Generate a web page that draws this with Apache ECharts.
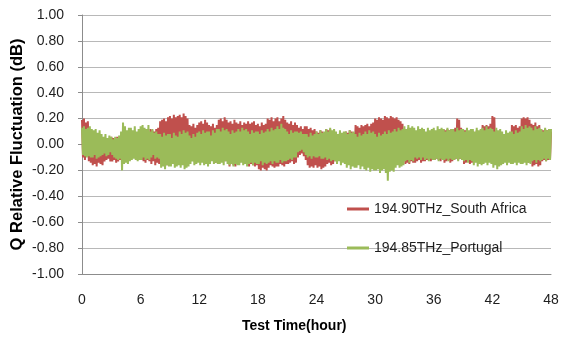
<!DOCTYPE html>
<html>
<head>
<meta charset="utf-8">
<script src="https://cdn.jsdelivr.net/npm/echarts@6/dist/echarts.min.js"></script>
<style>
  html, body { margin: 0; padding: 0; background: #fff; }
  #main { width: 565px; height: 338px; }
</style>
</head>
<body>
<div id="main"></div>
<script>
// sample spacing on the time axis (hours)
var step = 0.1;
var xTicks = [0, 6, 12, 18, 24, 30, 36, 42, 48];
var yTicks = [-1, -0.8, -0.6, -0.4, -0.2, 0, 0.2, 0.4, 0.6, 0.8, 1];
var seriesNames = ['194.90THz_South Africa', '194.85THz_Portugal'];

// 194.90THz_South Africa, one value every 0.1 h (one row = one hour)
var southAfrica = [
  0.19, -0.10, 0.20, -0.12, 0.17, -0.08, 0.18, -0.13, 0.12, -0.14,
  0.08, -0.16, 0.06, -0.15, 0.07, -0.17, 0.05, -0.14, 0.06, -0.15,
  0.04, -0.16, 0.05, -0.13, 0.03, -0.12, 0.05, -0.11, 0.04, -0.13,
  0.06, -0.13, 0.05, -0.12, 0.04, -0.14, 0.06, -0.13, 0.05, -0.12,
  0.05, -0.10, 0.03, -0.09, 0.06, -0.11, 0.04, -0.10, 0.05, -0.09,
  0.07, -0.08, 0.08, -0.10, 0.06, -0.07, 0.08, -0.09, 0.07, -0.08,
  0.10, -0.12, 0.09, -0.13, 0.08, -0.14, 0.10, -0.12, 0.09, -0.13,
  0.12, -0.15, 0.11, -0.13, 0.10, -0.16, 0.12, -0.14, 0.13, -0.15,
  0.18, -0.14, 0.19, -0.15, 0.20, -0.13, 0.18, -0.16, 0.21, -0.14,
  0.22, -0.13, 0.20, -0.14, 0.23, -0.12, 0.21, -0.15, 0.22, -0.13,
  0.23, -0.15, 0.21, -0.14, 0.24, -0.13, 0.22, -0.15, 0.20, -0.14,
  0.15, -0.12, 0.14, -0.11, 0.16, -0.13, 0.13, -0.12, 0.15, -0.11,
  0.17, -0.12, 0.18, -0.11, 0.16, -0.10, 0.19, -0.12, 0.17, -0.13,
  0.15, -0.14, 0.14, -0.12, 0.16, -0.13, 0.13, -0.14, 0.15, -0.12,
  0.19, -0.13, 0.20, -0.12, 0.18, -0.11, 0.21, -0.13, 0.19, -0.12,
  0.17, -0.17, 0.18, -0.15, 0.16, -0.16, 0.19, -0.17, 0.17, -0.15,
  0.16, -0.14, 0.18, -0.13, 0.15, -0.12, 0.17, -0.14, 0.16, -0.13,
  0.18, -0.17, 0.16, -0.15, 0.17, -0.16, 0.18, -0.17, 0.15, -0.16,
  0.16, -0.19, 0.14, -0.20, 0.17, -0.18, 0.15, -0.19, 0.16, -0.20,
  0.20, -0.18, 0.19, -0.16, 0.21, -0.17, 0.18, -0.18, 0.20, -0.17,
  0.21, -0.17, 0.18, -0.15, 0.20, -0.16, 0.22, -0.17, 0.19, -0.15,
  0.17, -0.15, 0.16, -0.14, 0.18, -0.13, 0.15, -0.15, 0.17, -0.14,
  0.15, -0.10, 0.13, -0.08, 0.14, -0.07, 0.12, -0.09, 0.14, -0.12,
  0.14, -0.16, 0.12, -0.18, 0.13, -0.17, 0.11, -0.18, 0.12, -0.16,
  0.10, -0.18, 0.09, -0.17, 0.11, -0.19, 0.10, -0.18, 0.09, -0.17,
  0.12, -0.15, 0.11, -0.14, 0.12, -0.16, 0.10, -0.15, 0.11, -0.13,
  0.08, -0.12, 0.07, -0.11, 0.09, -0.13, 0.08, -0.12, 0.07, -0.11,
  0.10, -0.14, 0.09, -0.13, 0.11, -0.12, 0.10, -0.14, 0.09, -0.13,
  0.15, -0.13, 0.14, -0.12, 0.13, -0.13, 0.15, -0.11, 0.14, -0.12,
  0.15, -0.12, 0.16, -0.11, 0.14, -0.10, 0.16, -0.12, 0.17, -0.11,
  0.20, -0.10, 0.19, -0.09, 0.21, -0.11, 0.20, -0.10, 0.19, -0.09,
  0.22, -0.10, 0.21, -0.09, 0.20, -0.11, 0.22, -0.10, 0.21, -0.09,
  0.20, -0.10, 0.21, -0.08, 0.19, -0.09, 0.18, -0.10, 0.16, -0.12,
  0.12, -0.15, 0.11, -0.14, 0.13, -0.15, 0.12, -0.13, 0.11, -0.14,
  0.10, -0.14, 0.09, -0.13, 0.08, -0.12, 0.10, -0.14, 0.09, -0.13,
  0.08, -0.13, 0.07, -0.12, 0.08, -0.11, 0.07, -0.13, 0.08, -0.12,
  0.10, -0.12, 0.09, -0.11, 0.10, -0.12, 0.09, -0.13, 0.10, -0.11,
  0.12, -0.14, 0.11, -0.13, 0.12, -0.12, 0.11, -0.14, 0.12, -0.13,
  0.12, -0.12, 0.13, -0.11, 0.20, -0.12, 0.19, -0.11, 0.13, -0.12,
  0.12, -0.15, 0.11, -0.14, 0.12, -0.13, 0.10, -0.15, 0.11, -0.14,
  0.10, -0.13, 0.09, -0.12, 0.11, -0.13, 0.10, -0.12, 0.09, -0.13,
  0.15, -0.12, 0.14, -0.11, 0.15, -0.12, 0.14, -0.11, 0.16, -0.12,
  0.22, -0.12, 0.21, -0.11, 0.10, -0.12, 0.09, -0.11, 0.10, -0.12,
  0.08, -0.13, 0.07, -0.12, 0.08, -0.11, 0.07, -0.13, 0.08, -0.12,
  0.15, -0.10, 0.14, -0.09, 0.15, -0.11, 0.13, -0.10, 0.14, -0.12,
  0.20, -0.14, 0.21, -0.13, 0.20, -0.12, 0.21, -0.14, 0.19, -0.13,
  0.16, -0.17, 0.15, -0.16, 0.17, -0.15, 0.14, -0.17, 0.15, -0.16,
  0.12, -0.13, 0.11, -0.12, 0.12, -0.13, 0.11, -0.12, 0.12, -0.12,
  0.10
];

// 194.85THz_Portugal, one value every 0.1 h (one row = one hour)
var portugal = [
  0.13, -0.08, 0.14, -0.09, 0.12, -0.10, 0.13, -0.09, 0.14, -0.10,
  0.12, -0.10, 0.11, -0.08, 0.12, -0.11, 0.09, -0.10, 0.11, -0.09,
  0.08, -0.08, 0.06, -0.07, 0.08, -0.09, 0.05, -0.08, 0.07, -0.06,
  0.06, -0.08, 0.04, -0.10, 0.06, -0.11, 0.05, -0.12, 0.07, -0.11,
  0.10, -0.20, 0.17, -0.15, 0.14, -0.14, 0.11, -0.15, 0.13, -0.13,
  0.13, -0.12, 0.11, -0.11, 0.14, -0.12, 0.10, -0.13, 0.12, -0.12,
  0.14, -0.12, 0.15, -0.10, 0.13, -0.12, 0.12, -0.11, 0.15, -0.12,
  0.10, -0.10, 0.12, -0.08, 0.09, -0.11, 0.10, -0.10, 0.08, -0.11,
  0.08, -0.18, 0.06, -0.17, 0.09, -0.19, 0.07, -0.16, 0.08, -0.17,
  0.08, -0.17, 0.05, -0.15, 0.09, -0.18, 0.07, -0.17, 0.06, -0.16,
  0.10, -0.18, 0.08, -0.16, 0.11, -0.19, 0.09, -0.18, 0.10, -0.17,
  0.07, -0.15, 0.05, -0.13, 0.08, -0.16, 0.06, -0.15, 0.09, -0.14,
  0.10, -0.16, 0.08, -0.14, 0.11, -0.16, 0.09, -0.15, 0.10, -0.17,
  0.10, -0.15, 0.07, -0.13, 0.11, -0.15, 0.09, -0.14, 0.12, -0.15,
  0.12, -0.15, 0.10, -0.14, 0.13, -0.16, 0.11, -0.13, 0.12, -0.15,
  0.10, -0.16, 0.08, -0.15, 0.11, -0.17, 0.09, -0.15, 0.10, -0.16,
  0.12, -0.16, 0.10, -0.14, 0.13, -0.16, 0.11, -0.15, 0.12, -0.17,
  0.10, -0.15, 0.08, -0.14, 0.11, -0.16, 0.09, -0.14, 0.10, -0.15,
  0.10, -0.15, 0.08, -0.13, 0.11, -0.16, 0.09, -0.14, 0.10, -0.15,
  0.12, -0.14, 0.10, -0.13, 0.13, -0.15, 0.11, -0.13, 0.12, -0.14,
  0.14, -0.14, 0.12, -0.12, 0.16, -0.14, 0.13, -0.13, 0.12, -0.13,
  0.10, -0.12, 0.08, -0.11, 0.11, -0.12, 0.09, -0.10, 0.10, -0.10,
  0.10, -0.06, 0.09, -0.05, 0.10, -0.04, 0.08, -0.06, 0.08, -0.08,
  0.08, -0.10, 0.06, -0.09, 0.09, -0.11, 0.07, -0.09, 0.08, -0.10,
  0.10, -0.10, 0.08, -0.09, 0.11, -0.11, 0.09, -0.11, 0.10, -0.10,
  0.12, -0.12, 0.10, -0.11, 0.13, -0.13, 0.11, -0.12, 0.12, -0.13,
  0.10, -0.15, 0.08, -0.13, 0.11, -0.16, 0.09, -0.14, 0.10, -0.15,
  0.10, -0.18, 0.08, -0.16, 0.11, -0.19, 0.09, -0.17, 0.10, -0.18,
  0.08, -0.18, 0.06, -0.16, 0.09, -0.19, 0.07, -0.17, 0.08, -0.19,
  0.10, -0.20, 0.08, -0.18, 0.11, -0.21, 0.09, -0.19, 0.10, -0.20,
  0.08, -0.20, 0.06, -0.19, 0.09, -0.22, 0.07, -0.20, 0.08, -0.19,
  0.10, -0.22, 0.08, -0.28, 0.11, -0.21, 0.09, -0.20, 0.10, -0.21,
  0.12, -0.18, 0.10, -0.16, 0.13, -0.18, 0.11, -0.17, 0.12, -0.16,
  0.14, -0.13, 0.12, -0.12, 0.15, -0.14, 0.13, -0.12, 0.14, -0.13,
  0.13, -0.10, 0.11, -0.11, 0.14, -0.10, 0.12, -0.12, 0.13, -0.10,
  0.12, -0.12, 0.10, -0.11, 0.13, -0.13, 0.11, -0.11, 0.12, -0.12,
  0.13, -0.12, 0.11, -0.11, 0.14, -0.13, 0.12, -0.11, 0.13, -0.12,
  0.12, -0.12, 0.10, -0.11, 0.13, -0.13, 0.11, -0.11, 0.12, -0.12,
  0.12, -0.12, 0.10, -0.11, 0.13, -0.13, 0.11, -0.11, 0.12, -0.12,
  0.12, -0.13, 0.10, -0.12, 0.13, -0.14, 0.11, -0.12, 0.12, -0.13,
  0.12, -0.16, 0.10, -0.14, 0.13, -0.17, 0.11, -0.15, 0.12, -0.16,
  0.13, -0.15, 0.11, -0.14, 0.14, -0.16, 0.12, -0.14, 0.13, -0.15,
  0.12, -0.18, 0.10, -0.16, 0.13, -0.19, 0.11, -0.17, 0.12, -0.16,
  0.10, -0.15, 0.08, -0.14, 0.11, -0.16, 0.09, -0.14, 0.10, -0.15,
  0.10, -0.15, 0.08, -0.14, 0.11, -0.16, 0.09, -0.14, 0.10, -0.15,
  0.14, -0.15, 0.12, -0.14, 0.15, -0.16, 0.13, -0.14, 0.14, -0.15,
  0.13, -0.13, 0.11, -0.12, 0.14, -0.14, 0.12, -0.12, 0.13, -0.13,
  0.12, -0.12, 0.10, -0.11, 0.13, -0.13, 0.11, -0.11, 0.12, -0.12,
  0.12
];

var textColor = '#1e1e1e';
var labelFont = '"Liberation Sans", Arial, sans-serif';
var titleFont = '"Liberation Sans", Arial, sans-serif';

function toPoints(arr) {
  return arr.map(function (v, i) { return [+(i * step).toFixed(1), v]; });
}

var chart = echarts.init(document.getElementById('main'), null, { renderer: 'canvas' });
chart.setOption({
  animation: false,
  backgroundColor: '#fff',
  grid: { left: 82, right: 14, top: 15, bottom: 64, containLabel: false, outerBoundsMode: 'none' },
  legend: {
    orient: 'vertical',
    left: 342,
    top: 197,
    icon: 'rect',
    itemWidth: 22,
    itemHeight: 3,
    itemGap: 25,
    textStyle: { color: textColor, fontSize: 14, fontFamily: labelFont },
    data: seriesNames
  },
  xAxis: {
    type: 'value',
    min: 0,
    max: 48,
    interval: 6,
    axisLine: { show: true, onZero: false, lineStyle: { color: '#8c8c8c', width: 1 } },
    axisTick: { show: false },
    splitLine: { show: false },
    axisLabel: {
      margin: 19, color: textColor, fontSize: 14, fontFamily: labelFont,
      formatter: function (v) { return xTicks.indexOf(v) >= 0 ? String(v) : ''; }
    }
  },
  yAxis: {
    type: 'value',
    min: -1,
    max: 1,
    interval: 0.2,
    name: 'Q Relative Fluctuation (dB)',
    nameLocation: 'middle',
    nameGap: 56,
    nameMoveOverlap: false,
    nameTextStyle: { color: '#000', fontSize: 16.5, fontWeight: 'bold', fontFamily: titleFont },
    axisLine: { show: true, lineStyle: { color: '#8c8c8c', width: 1 } },
    axisTick: { show: true, inside: false, length: 4, lineStyle: { color: '#8c8c8c' } },
    splitLine: { show: true, lineStyle: { color: '#b8b8b8', width: 1 } },
    axisLabel: {
      margin: 18, color: textColor, fontSize: 14, fontFamily: labelFont,
      formatter: function (v) {
        var t = yTicks.filter(function (k) { return Math.abs(k - v) < 1e-6; });
        return t.length ? (Math.abs(v) < 1e-6 ? '0.00' : v.toFixed(2)) : '';
      }
    }
  },
  graphic: [{
    type: 'text',
    left: 242,
    top: 319,
    style: { text: 'Test Time(hour)', fill: '#000', font: 'bold 14px ' + titleFont }
  }],
  series: [
    {
      name: seriesNames[0],
      type: 'line',
      showSymbol: false,
      color: '#C0504D',
      lineStyle: { width: 2, color: '#C0504D' },
      data: toPoints(southAfrica)
    },
    {
      name: seriesNames[1],
      type: 'line',
      showSymbol: false,
      color: '#9BBB59',
      lineStyle: { width: 2, color: '#9BBB59' },
      data: toPoints(portugal)
    }
  ]
});
</script>
</body>
</html>
